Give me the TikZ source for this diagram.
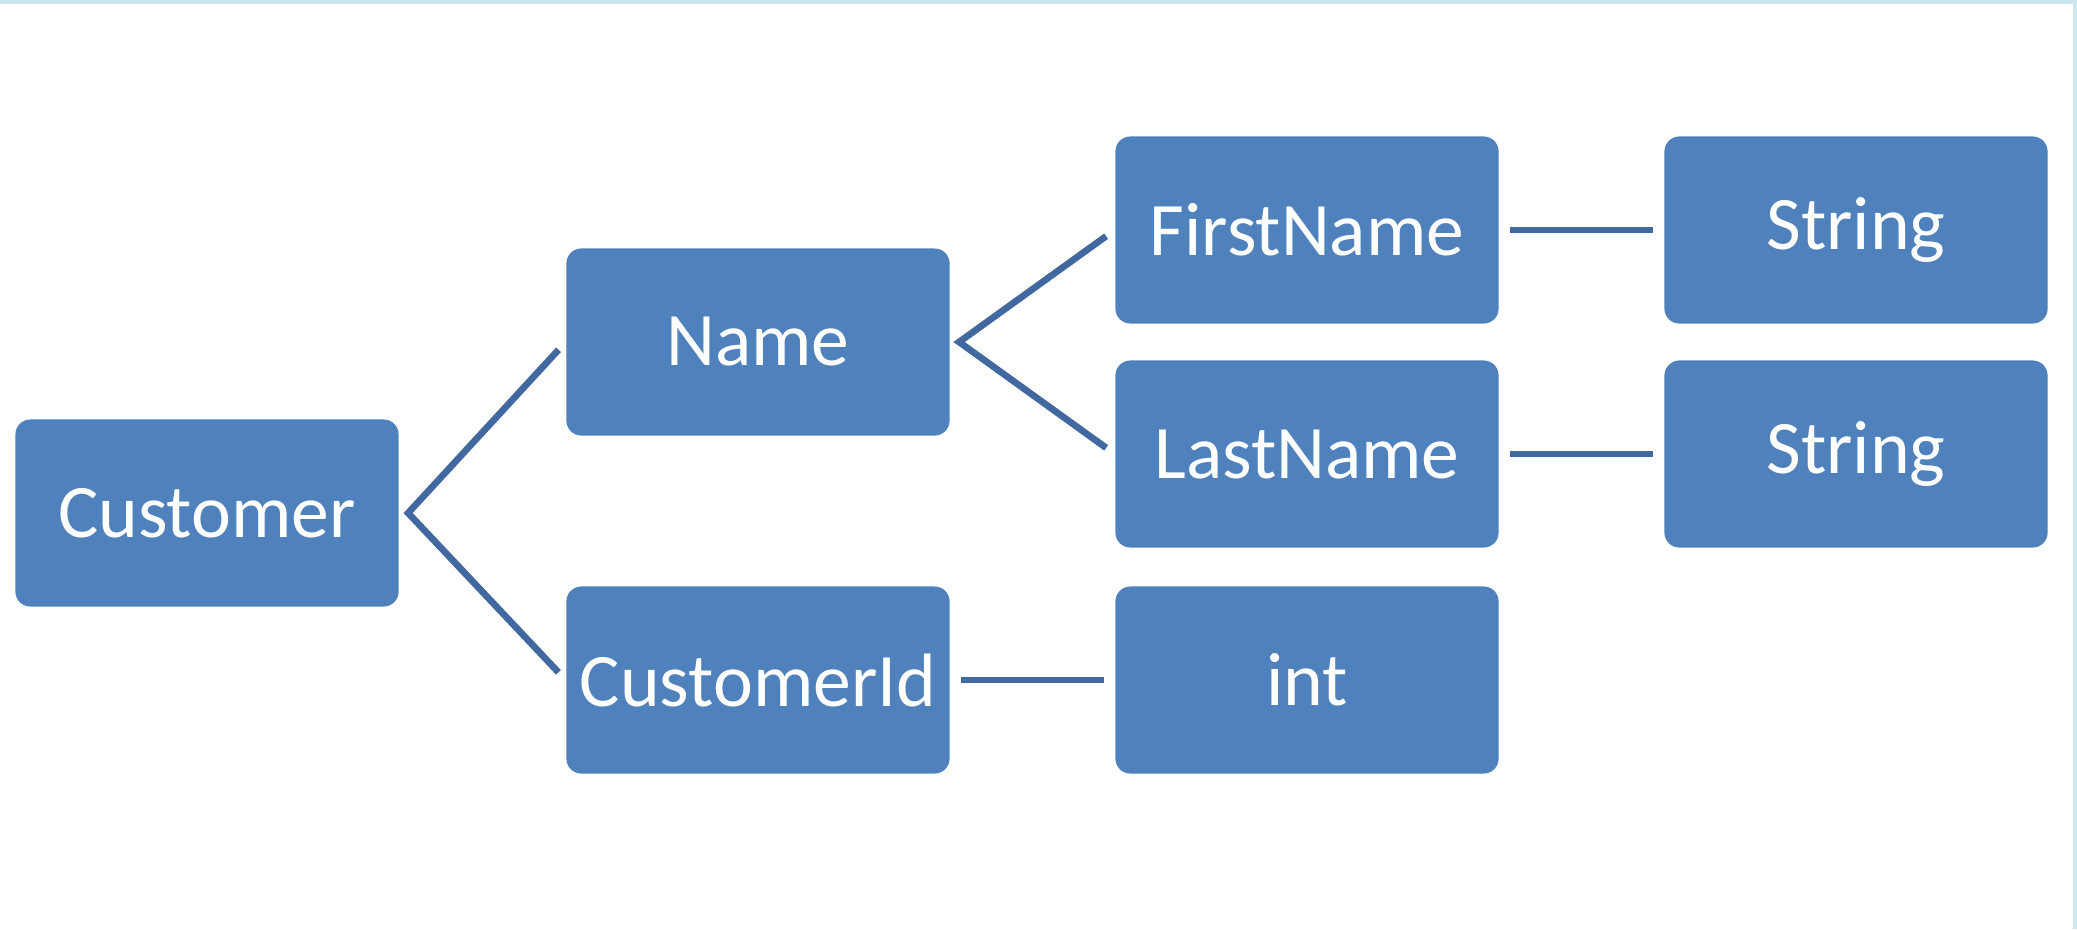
\documentclass[tikz,border=0pt]{standalone}
\usepackage{fontspec}
\setmainfont{Carlito}
\definecolor{boxfill}{HTML}{4F81BD}
\definecolor{linkcol}{HTML}{41689F}
\definecolor{framecol}{HTML}{CBE7EF}
\begin{document}
\begin{tikzpicture}[x=0.01cm,y=-0.01cm,
  item/.style={fill=boxfill, rounded corners=0.15cm, minimum width=3.83cm,
    minimum height=1.87cm, inner sep=0pt, text=white,
    font=\fontsize{21.5}{25}\selectfont},
  link/.style={draw=linkcol, line width=1.9pt, shorten <=3pt, shorten >=3pt},
  fork/.style={draw=linkcol, line width=1.9pt, miter limit=20,
    shorten <=3pt, shorten >=3pt}]
  \useasboundingbox (0,0) rectangle (2077,929);
  \fill[white] (0,0) rectangle (2077,929);
  % thin frame along the top and right edges
  \draw[framecol, line width=1.2pt] (0,1.5) -- (2075.5,1.5) -- (2075.5,929);

  \node[item] (cust)  at (207,513) {Customer};
  \node[item] (name)  at (758,342) {Name};
  \node[item] (cid)   at (758,680) {CustomerId};
  \node[item] (first) at (1307,230) {FirstName};
  \node[item] (last)  at (1307,454) {LastName};
  \node[item] (int)   at (1307,680) {int};
  \node[item] (str1)  at (1856,230) {String};
  \node[item] (str2)  at (1856,454) {String};

  % branch points just right of the parent boxes
  \coordinate (custfork) at ([xshift=2.5pt]cust.east);
  \coordinate (namefork) at ([xshift=2.5pt]name.east);

  \draw[fork] (name.west) -- (custfork) -- (cid.west);
  \draw[fork] (first.west) -- (namefork) -- (last.west);
  \draw[link] (cid.east) -- (int.west);
  \draw[link] (first.east) -- (str1.west);
  \draw[link] (last.east) -- (str2.west);
\end{tikzpicture}
\end{document}
